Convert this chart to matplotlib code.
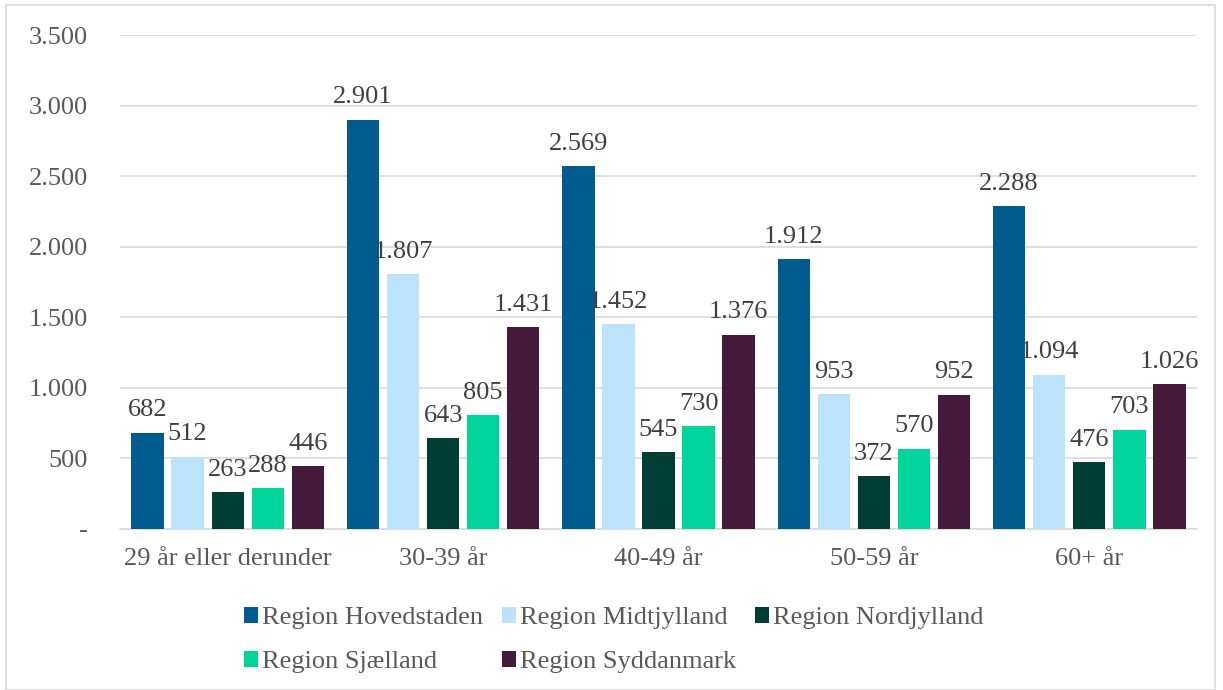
import matplotlib.pyplot as plt
import matplotlib.ticker as ticker
from matplotlib.patches import Rectangle
import numpy as np

plt.rcParams['font.family'] = ['Liberation Serif', 'DejaVu Serif']

categories = ['29 år eller derunder', '30-39 år', '40-49 år', '50-59 år', '60+ år']
regions = ['Region Hovedstaden', 'Region Midtjylland', 'Region Nordjylland',
           'Region Sjælland', 'Region Syddanmark']
hovedstaden = [682, 2901, 2569, 1912, 2288]
midtjylland = [512, 1807, 1452, 953, 1094]
nordjylland = [263, 643, 545, 372, 476]
sjaelland = [288, 805, 730, 570, 703]
syddanmark = [446, 1431, 1376, 952, 1026]
colors = ['#005b8f', '#bde2fb', '#003f36', '#00d69b', '#461a3b']

text_col = '#595959'


def fmt(v, pos=None):
    if v == 0:
        return '-'
    return f'{int(v):,}'.replace(',', '.')


fig = plt.figure(figsize=(12.23, 6.9), dpi=100)
ax = fig.add_axes([120 / 1223, 1 - 529 / 690, 1077 / 1223, 494 / 690])

x = np.arange(len(categories))
width = 0.15
step = 0.186
series = [hovedstaden, midtjylland, nordjylland, sjaelland, syddanmark]
handles = []
for i, (vals, name, col) in enumerate(zip(series, regions, colors)):
    pos = x + (i - 2) * step
    bars = ax.bar(pos, vals, width, color=col, label=name, zorder=3)
    handles.append(bars)
    for b, v in zip(bars, vals):
        ax.text(b.get_x() + b.get_width() / 2, v + 80, fmt(v),
                ha='center', va='bottom', fontsize=19, color='#404040')

ax.set_xlim(-0.5, len(categories) - 0.5)
ax.set_ylim(0, 3500)
ax.yaxis.set_major_locator(ticker.MultipleLocator(500))
ax.yaxis.set_major_formatter(ticker.FuncFormatter(fmt))
ax.grid(axis='y', color='#d9d9d9', linewidth=1.2, zorder=0)
for s in ['top', 'right', 'left']:
    ax.spines[s].set_visible(False)
ax.spines['bottom'].set_color('#d9d9d9')
ax.spines['bottom'].set_linewidth(1.2)
ax.tick_params(axis='both', length=0, labelsize=19, labelcolor=text_col)
ax.tick_params(axis='y', pad=23)
ax.tick_params(axis='x', pad=14)
ax.set_xticks(x)
ax.set_xticklabels(categories)

# column-wise fill, so reorder to get row-wise legend
order = [0, 3, 1, 4, 2]
fig.legend([handles[i] for i in order], [regions[i] for i in order],
           loc='lower center', bbox_to_anchor=(0.502, -0.01), ncol=3, frameon=False,
           fontsize=19, labelcolor=text_col, handlelength=0.55, handleheight=0.55,
           handletextpad=0.15, columnspacing=0.7, labelspacing=0.83)

fig.patches.append(Rectangle((6 / 1223, 0), 1209 / 1223, 1 - 5 / 690, transform=fig.transFigure,
                             fill=False, edgecolor='#d9d9d9', linewidth=1.2))

fig.savefig('out.png', dpi=100)
